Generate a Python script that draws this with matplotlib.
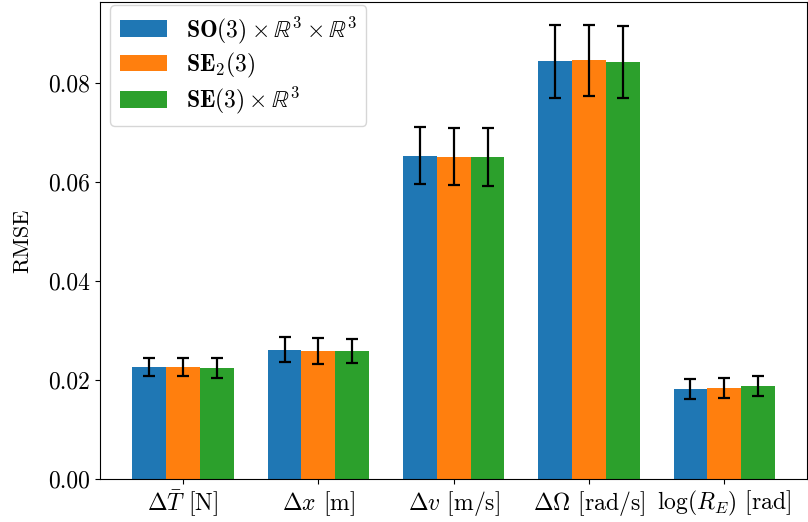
import numpy as np
import matplotlib.pyplot as plt

plt.rcParams['mathtext.fontset'] = 'cm'
plt.rcParams['font.family'] = 'serif'
plt.rcParams['font.serif'] = ['cmr10']
plt.rcParams['axes.formatter.use_mathtext'] = True
plt.rcParams['font.size'] = 17

categories = [r'$\Delta\bar{T}$ [N]', r'$\Delta x$ [m]', r'$\Delta v$ [m/s]',
              r'$\Delta\Omega$ [rad/s]', r'$\log(R_E)$ [rad]']
labels = [r'$\mathbf{SO}(3)\times\mathbb{R}^3\times\mathbb{R}^3$',
          r'$\mathbf{SE}_2(3)$',
          r'$\mathbf{SE}(3)\times\mathbb{R}^3$']

so3_mean = [0.0226, 0.0261, 0.0653, 0.0843, 0.0182]
so3_std = [0.0018, 0.0025, 0.0058, 0.0074, 0.0021]
se23_mean = [0.0226, 0.0259, 0.0651, 0.0845, 0.0184]
se23_std = [0.0018, 0.0026, 0.0057, 0.0071, 0.0021]
se3_mean = [0.0224, 0.0259, 0.0650, 0.0842, 0.0188]
se3_std = [0.0020, 0.0024, 0.0058, 0.0073, 0.0020]

means = [so3_mean, se23_mean, se3_mean]
stds = [so3_std, se23_std, se3_std]
colors = ['#1f77b4', '#ff7f0e', '#2ca02c']

fig = plt.figure(figsize=(8.08, 5.22), dpi=100)
ax = fig.add_axes([0.124, 0.082, 0.875, 0.914])

x = np.arange(len(categories))
w = 0.25
for i in range(3):
    ax.bar(x + (i - 1) * w, means[i], w, yerr=stds[i], color=colors[i],
           label=labels[i], capsize=4,
           error_kw=dict(elinewidth=1.6, capthick=1.6, ecolor='black'))

ax.set_xticks(x)
ax.set_xticklabels(categories)
ax.set_ylabel('RMSE', fontsize=16, labelpad=12)
ax.set_yticks([0, 0.02, 0.04, 0.06, 0.08])
ax.set_yticklabels(['0.00', '0.02', '0.04', '0.06', '0.08'])
ax.legend(loc='upper left', fontsize=17, bbox_to_anchor=(0.014, 0.994),
          borderaxespad=0, labelspacing=0.22)

fig.savefig('out.png', dpi=100)
